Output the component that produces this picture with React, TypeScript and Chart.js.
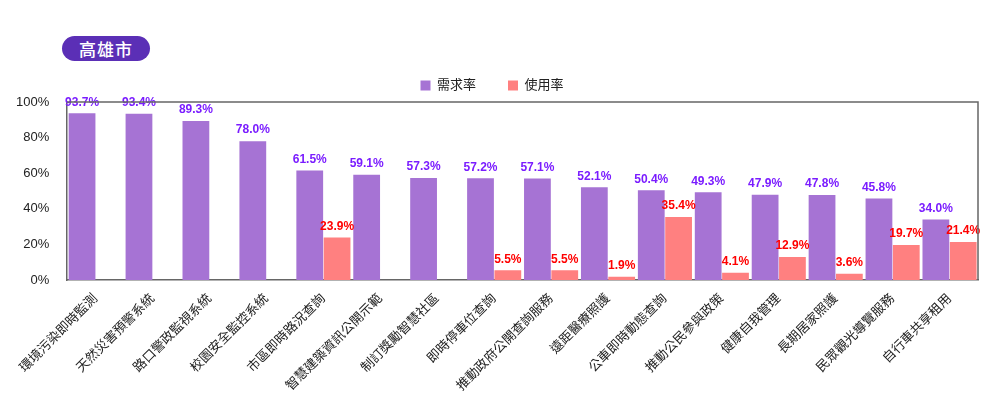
import React, { useEffect, useRef } from "react";
import { Chart, registerables } from "chart.js";

Chart.register(...registerables);

const categories = [
  "環境污染即時監測",
  "天然災害預警系統",
  "路口警政監視系統",
  "校園安全監控系統",
  "市區即時路況查詢",
  "智慧建築資訊公開示範",
  "制訂獎勵智慧社區",
  "即時停車位查詢",
  "推動政府公開查詢服務",
  "遠距醫療照護",
  "公車即時動態查詢",
  "推動公民參與政策",
  "健康自我管理",
  "長期居家照護",
  "民眾觀光導覽服務",
  "自行車共享租用",
];
const demandRate = [93.7, 93.4, 89.3, 78.0, 61.5, 59.1, 57.3, 57.2, 57.1, 52.1, 50.4, 49.3, 47.9, 47.8, 45.8, 34.0];
const usageRate = [null, null, null, null, 23.9, null, null, 5.5, 5.5, 1.9, 35.4, 4.1, 12.9, 3.6, 19.7, 21.4];
const yTicks = [0, 20, 40, 60, 80, 100];

const FONT = '"Liberation Sans", "Noto Sans CJK TC", Arial, sans-serif';

const labelPlugin = {
  id: "valueLabels",
  afterDatasetsDraw(chart: any) {
    const ctx = chart.ctx;
    const colors = ["#7A1CFF", "#FF0000"];
    chart.data.datasets.forEach((ds: any, i: number) => {
      const meta = chart.getDatasetMeta(i);
      meta.data.forEach((el: any, j: number) => {
        const v = ds.data[j];
        if (v === null || v === undefined) return;
        ctx.save();
        ctx.font = `bold 12px ${FONT}`;
        ctx.fillStyle = colors[i];
        ctx.textAlign = "center";
        ctx.textBaseline = "bottom";
        ctx.fillText(v.toFixed(1) + "%", el.x, el.y - 5);
        ctx.restore();
      });
    });
  },
};

export default function App() {
  const ref = useRef<HTMLCanvasElement>(null);
  useEffect(() => {
    document.body.style.margin = "0";
    const chart = new Chart(ref.current!, {
      type: "bar",
      data: {
        labels: categories,
        datasets: [
          { label: "需求率", data: demandRate, backgroundColor: "#A673D4", borderWidth: 0 },
          { label: "使用率", data: usageRate as any, backgroundColor: "#FF8080", borderWidth: 0 },
        ],
      },
      options: {
        animation: false,
        responsive: false,
        maintainAspectRatio: false,
        layout: { padding: { top: 47, left: 6, right: 12, bottom: 0 } },
        plugins: {
          legend: {
            display: true,
            position: "top",
            labels: {
              boxWidth: 10,
              boxHeight: 10,
              padding: 32,
              color: "#222",
              font: { size: 13, family: FONT },
            },
          },
          tooltip: { enabled: false },
        },
        datasets: { bar: { categoryPercentage: 0.96, barPercentage: 0.98 } },
        scales: {
          x: {
            grid: { display: false },
            border: { display: true, color: "#666", width: 1.5 },
            ticks: {
              color: "#222",
              maxRotation: 45,
              minRotation: 45,
              autoSkip: false,
              font: { size: 13, family: FONT },
            },
          },
          y: {
            min: 0,
            max: 100,
            grid: { display: false },
            border: { display: true, color: "#666", width: 1.5 },
            afterBuildTicks(axis: any) {
              axis.ticks = yTicks.map((v) => ({ value: v }));
            },
            ticks: {
              color: "#222",
              padding: 10,
              font: { size: 13, family: FONT },
              callback: (v: any) => v + "%",
            },
          },
        },
      },
      plugins: [
        labelPlugin,
        {
          id: "frame",
          afterDraw(c: any) {
            const { ctx, chartArea } = c;
            ctx.save();
            ctx.strokeStyle = "#666";
            ctx.lineWidth = 1.5;
            ctx.beginPath();
            ctx.moveTo(chartArea.left, chartArea.top);
            ctx.lineTo(chartArea.right, chartArea.top);
            ctx.lineTo(chartArea.right, chartArea.bottom);
            ctx.stroke();
            ctx.restore();
          },
        },
      ],
    });
    return () => chart.destroy();
  }, []);
  return (
    <div style={{ position: "relative", width: 990, height: 397, background: "#fff" }}>
      <div
        style={{
          position: "absolute",
          left: 62,
          top: 36,
          width: 88,
          height: 25,
          borderRadius: 13,
          background: "#5B2FB6",
          color: "#fff",
          fontFamily: '"Noto Sans CJK TC", sans-serif',
          fontSize: 17,
          fontWeight: 500,
          lineHeight: "25px",
          textAlign: "center",
          letterSpacing: 1,
        }}
      >
        高雄市
      </div>
      <canvas ref={ref} width={990} height={397} style={{ position: "absolute", left: 0, top: 0 }} />
    </div>
  );
}
